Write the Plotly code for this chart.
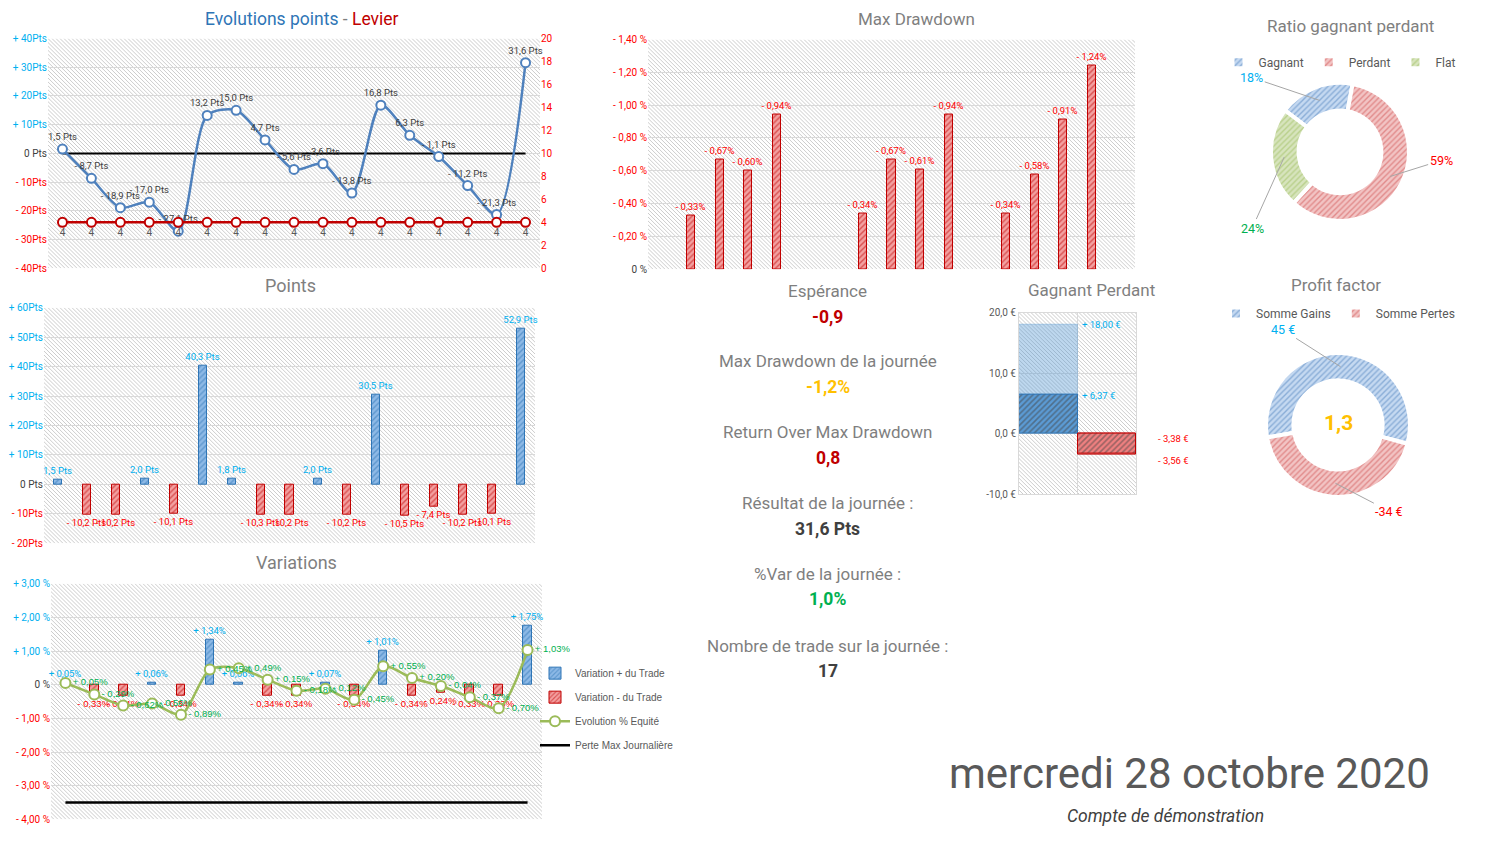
import base64
import math
import plotly.graph_objects as go

W, H = 1493, 849
FONT = "Roboto, Liberation Sans, sans-serif"
LEG_FONT = "Liberation Sans, Arial, sans-serif"

CYAN = "#00B0F0"
RED = "#FF0000"
DARKRED = "#C00000"
GREEN = "#00B050"
GOLD = "#FFC000"
GRAY = "#7F7F7F"
DARK = "#404040"
GRID = "#d9d9d9"

# ---------------- data ----------------
trades = [1, 2, 3, 4, 5, 6, 7, 8, 9, 10, 11, 12, 13, 14, 15, 16, 17]
cumul_points = [1.5, -8.7, -18.9, -17.0, -27.1, 13.2, 15.0, 4.7, -5.6, -3.6,
                -13.8, 16.8, 6.3, -1.1, -11.2, -21.3, 31.6]
levier = [4, 4, 4, 4, 4, 4, 4, 4, 4, 4, 4, 4, 4, 4, 4, 4, 4]
niveau_zero = 0
points_trade = [1.5, -10.2, -10.2, 2.0, -10.1, 40.3, 1.8, -10.3, -10.2, 2.0,
                -10.2, 30.5, -10.5, -7.4, -10.2, -10.1, 52.9]
var_trade = [0.05, -0.33, -0.34, 0.06, -0.34, 1.34, 0.06, -0.34, -0.34, 0.07,
             -0.34, 1.01, -0.34, -0.24, -0.33, -0.33, 1.75]
equite = [0.05, -0.29, -0.62, -0.56, -0.89, 0.45, 0.49, 0.15, -0.18, -0.12,
          -0.45, 0.55, 0.20, -0.04, -0.37, -0.70, 1.03]
perte_max_jour = -3.5
max_dd = [None, 0.33, 0.67, 0.60, 0.94, None, None, 0.34, 0.67, 0.61, 0.94,
          None, 0.34, 0.58, 0.91, 1.24, None]
gp_pos = [0, 1]
gp_max = [18.00, -3.56]
gp_moy = [6.37, -3.38]
ratio_labels = ["Gagnant", "Perdant", "Flat"]
ratio_counts = [3, 10, 4]
pf_labels = ["Somme Gains", "Somme Pertes"]
pf_values = [45, -34]
profit_factor = 1.3

pts_ticks = [-40, -30, -20, -10, 0, 10, 20, 30, 40]
lev_ticks = [0, 2, 4, 6, 8, 10, 12, 14, 16, 18, 20]
points_ticks = [-20, -10, 0, 10, 20, 30, 40, 50, 60]
var_ticks = [-4, -3, -2, -1, 0, 1, 2, 3]
dd_ticks = [0, 0.2, 0.4, 0.6, 0.8, 1.0, 1.2, 1.4]
gp_ticks = [-10, 0, 10, 20]

stat_titles = ["Espérance", "Max Drawdown de la journée", "Return Over Max Drawdown",
               "Résultat de la journée :", "%Var de la journée :",
               "Nombre de trade sur la journée :"]
stat_values = ["-0,9", "-1,2%", "0,8", "31,6 Pts", "1,0%", "17"]
stat_colors = [DARKRED, GOLD, DARKRED, DARK, GREEN, DARK]
date_text = "mercredi 28 octobre 2020"
compte_text = "Compte de démonstration"


# ---------------- helpers ----------------
def num(v, d=1):
    return f"{abs(v):.{d}f}".replace(".", ",")


def col(txt, c):
    return f"<span style='color:{c}'>{txt}</span>"


def dom_x(x0, x1):
    return [x0 / W, x1 / W]


def dom_y(y0, y1):
    return [1 - y1 / H, 1 - y0 / H]


def pts_tick(v):
    if v > 0:
        return col(f"+ {v}Pts", CYAN)
    if v == 0:
        return col("0 Pts", DARK)
    return col(f"- {abs(v)}Pts", RED)


def var_tick(v):
    if v > 0:
        return col(f"+ {num(v, 2)} %", CYAN)
    if v == 0:
        return col("0 %", DARK)
    return col(f"- {num(v, 2)} %", RED)


def dd_tick(v):
    if v == 0:
        return col("0 %", DARK)
    return col(f"- {num(v, 2)} %", RED)


def hatch(xr, yr, wpx, hpx):
    svg = (f"<svg xmlns='http://www.w3.org/2000/svg' width='{wpx}' height='{hpx}' "
           f"viewBox='0 0 {wpx} {hpx}'><defs><pattern id='h' width='4' height='4' "
           "patternUnits='userSpaceOnUse'><path d='M-1,-1 L5,5 M-1,3 L1,5 M3,-1 L5,1' "
           "stroke='#c6c6c6' stroke-width='0.9'/></pattern></defs>"
           "<rect width='100%' height='100%' fill='white'/>"
           "<rect width='100%' height='100%' fill='url(#h)'/></svg>")
    uri = "data:image/svg+xml;base64," + base64.b64encode(svg.encode()).decode()
    return dict(source=uri, xref=f"{xr} domain", yref=f"{yr} domain", x=0, y=1,
                sizex=1, sizey=1, xanchor="left", yanchor="top", sizing="stretch",
                layer="below")


def pat(bg, fg, line):
    return dict(color=bg, line=dict(color=line, width=1),
                pattern=dict(shape="/", fgcolor=fg, size=4, solidity=0.35,
                             fillmode="overlay"))


BLUE_BAR = pat("#8DB9E6", "#2E75B6", "#2E75B6")
RED_BAR = pat("#F3A0A0", "#C00000", "#C00000")

# plot areas in pixels (x0, x1, y0, y1)
P1 = (48, 540, 33, 266)
P2 = (44, 535, 306, 545)
P3 = (51, 542, 586, 825)
P4 = (648, 1135, 34, 267)
P5 = (1019, 1136, 311, 495)
PIE1 = (1270, 1410, 78, 218)
PIE2 = (1265, 1411, 352, 498)

fig = go.Figure()

# ---- Chart 1 : Evolutions points - Levier ----
fig.add_trace(go.Scatter(x=trades, y=[niveau_zero] * len(trades), mode="lines",
                         line=dict(color="black", width=2), xaxis="x", yaxis="y",
                         showlegend=False, hoverinfo="skip"))
fig.add_trace(go.Scatter(
    x=trades, y=cumul_points, mode="lines+markers+text",
    line=dict(color="#4F81BD", width=2.5, shape="spline", smoothing=0.8),
    marker=dict(size=9, color="white", line=dict(color="#4F81BD", width=2)),
    text=[(f"- {num(v)} Pts" if v < 0 else f"{num(v)} Pts") for v in cumul_points],
    textposition="top center", textfont=dict(family=FONT, size=9.5, color=DARK),
    xaxis="x", yaxis="y", showlegend=False, cliponaxis=False))
fig.add_trace(go.Scatter(
    x=trades, y=levier, mode="lines+markers+text",
    line=dict(color=DARKRED, width=2.5),
    marker=dict(size=9, color="white", line=dict(color=DARKRED, width=2)),
    text=[str(v) for v in levier], textposition="bottom center",
    textfont=dict(family=FONT, size=10, color="#595959"),
    xaxis="x", yaxis="y2", showlegend=False, cliponaxis=False))

# ---- Chart 2 : Points ----
pos_pts = [v if v > 0 else None for v in points_trade]
neg_pts = [v if v < 0 else None for v in points_trade]
fig.add_trace(go.Bar(x=trades, y=pos_pts, width=0.28, marker=BLUE_BAR,
                     text=[f"{num(v)} Pts" if v is not None else "" for v in pos_pts],
                     textposition="outside", constraintext="none",
                     textfont=dict(family=FONT, size=9.5, color=CYAN),
                     xaxis="x2", yaxis="y3", showlegend=False, cliponaxis=False))
fig.add_trace(go.Bar(x=trades, y=neg_pts, width=0.28, marker=RED_BAR,
                     text=[f"- {num(v)} Pts" if v is not None else "" for v in neg_pts],
                     textposition="outside", constraintext="none",
                     textfont=dict(family=FONT, size=9.5, color=RED),
                     xaxis="x2", yaxis="y3", showlegend=False, cliponaxis=False))

# ---- Chart 3 : Variations ----
pos_var = [v if v > 0 else None for v in var_trade]
neg_var = [v if v < 0 else None for v in var_trade]
fig.add_trace(go.Bar(x=trades, y=pos_var, width=0.3, marker=BLUE_BAR,
                     name="Variation + du Trade", legendgroup="a",
                     text=[f"+ {num(v, 2)}%" if v is not None else "" for v in pos_var],
                     textposition="outside", constraintext="none",
                     textfont=dict(family=FONT, size=9.5, color=CYAN),
                     xaxis="x3", yaxis="y4", cliponaxis=False))
fig.add_trace(go.Bar(x=trades, y=neg_var, width=0.3, marker=RED_BAR,
                     name="Variation - du Trade", legendgroup="b",
                     text=[f"- {num(v, 2)}%" if v is not None else "" for v in neg_var],
                     textposition="outside", constraintext="none",
                     textfont=dict(family=LEG_FONT, size=9.5, color=RED),
                     xaxis="x3", yaxis="y4", cliponaxis=False))
fig.add_trace(go.Scatter(
    x=trades, y=equite, mode="lines+markers+text", name="Evolution % Equité", legendgroup="c",
    line=dict(color="#9BBB59", width=2.5, shape="spline", smoothing=0.8),
    marker=dict(size=10, color="white", line=dict(color="#9BBB59", width=2)),
    text=[("+ " if v >= 0 else "- ") + num(v, 2) + "%" for v in equite],
    textposition="middle right", textfont=dict(family=LEG_FONT, size=9.5, color=GREEN),
    xaxis="x3", yaxis="y4", cliponaxis=False))
fig.add_trace(go.Scatter(x=trades, y=[perte_max_jour] * len(trades), mode="lines",
                         name="Perte Max Journalière", legendgroup="d",
                         line=dict(color="black", width=2.5), xaxis="x3", yaxis="y4"))

# ---- Chart 4 : Max Drawdown ----
fig.add_trace(go.Bar(x=trades, y=max_dd, width=0.28, marker=RED_BAR,
                     text=[f"- {num(v, 2)}%" if v is not None else "" for v in max_dd],
                     textposition="outside", constraintext="none",
                     textfont=dict(family=FONT, size=9.5, color=RED),
                     xaxis="x4", yaxis="y5", showlegend=False, cliponaxis=False))

# ---- Chart 5 : Gagnant Perdant ----
fig.add_trace(go.Bar(x=gp_pos, y=gp_max, width=1,
                     marker=dict(color=["rgba(91,155,213,0.40)", "rgba(230,90,90,0.45)"],
                                 line=dict(color=["rgba(91,155,213,0.3)", "#C00000"], width=1)),
                     xaxis="x5", yaxis="y6", showlegend=False))
fig.add_trace(go.Bar(x=gp_pos, y=gp_moy, width=1,
                     marker=dict(color=["#5B9BD5", "#F08080"],
                                 line=dict(color=["#2E75B6", "#C00000"], width=1),
                                 pattern=dict(shape="/", fgcolor=["#1F5FA0", "#C00000"],
                                              size=4, solidity=0.4, fillmode="overlay")),
                     xaxis="x5", yaxis="y6", showlegend=False))

# ---- Pie : Ratio gagnant perdant ----
RATIO_ROT, RATIO_HOLE = -53, 0.6
fig.add_trace(go.Pie(
    labels=ratio_labels, values=ratio_counts, hole=RATIO_HOLE, sort=False,
    direction="clockwise", rotation=RATIO_ROT,
    marker=dict(colors=["#C5D9F1", "#F2C4C4", "#D7E4BD"],
                line=dict(color="white", width=4),
                pattern=dict(shape="/", fgcolor=["#4F81BD", "#D05050", "#9BBB59"],
                             size=4, solidity=0.35, fillmode="overlay")),
    textinfo="none",
    domain=dict(x=dom_x(PIE1[0], PIE1[1]), y=dom_y(PIE1[2], PIE1[3])), legend="legend2",
    hoverinfo="skip"))

# ---- Pie : Profit factor ----
PF_ROT, PF_HOLE = -100, 0.62
fig.add_trace(go.Pie(
    labels=pf_labels, values=[abs(v) for v in pf_values], hole=PF_HOLE, sort=False,
    direction="clockwise", rotation=PF_ROT,
    marker=dict(colors=["#C5D9F1", "#F2C4C4"],
                line=dict(color="white", width=4),
                pattern=dict(shape="/", fgcolor=["#4F81BD", "#D05050"],
                             size=4, solidity=0.35, fillmode="overlay")),
    textinfo="none",
    domain=dict(x=dom_x(PIE2[0], PIE2[1]), y=dom_y(PIE2[2], PIE2[3])), legend="legend3",
    hoverinfo="skip"))


def xax(p, rng, **kw):
    d = dict(domain=dom_x(p[0], p[1]), range=rng, showgrid=False, zeroline=False,
             showticklabels=False, ticks="", fixedrange=True)
    d.update(kw)
    return d


def yax(p, rng, tv, tt, **kw):
    d = dict(domain=dom_y(p[2], p[3]), range=rng, tickvals=tv, ticktext=tt,
             showgrid=True, gridcolor=GRID, gridwidth=1, zeroline=False,
             tickfont=dict(family=FONT, size=10, color=DARK), ticks="", fixedrange=True)
    d.update(kw)
    return d


annotations = []


def title(txt, x, y, size=17, color=GRAY, **kw):
    annotations.append(dict(text=txt, x=x / W, y=1 - y / H, xref="paper", yref="paper",
                            showarrow=False, xanchor="center", yanchor="middle",
                            font=dict(family=FONT, size=size, color=color), **kw))


title(col("Evolutions points", "#2E75B6") + col(" - ", GRAY) + col("Levier", DARKRED),
      302, 13, size=17.5)
title("Points", 290, 284, size=18)
title("Variations", 296, 564, size=18)
title("Max Drawdown", 916, 13, size=17)
title("Gagnant Perdant", 1091, 288)
title("Ratio gagnant perdant", 1350, 20)
title("Profit factor", 1336, 283)

stat_y = [289, 360, 432, 504, 576, 649]
for t, v, c, yy in zip(stat_titles, stat_values, stat_colors, stat_y):
    title(t, 828, yy, size=17, color=GRAY)
    title(f"<b>{v}</b>", 828, yy + 26, size=17.5, color=c)

title(date_text, 1189, 778, size=42, color="#595959")
title(f"<i>{compte_text}</i>", 1165, 822, size=17.5, color="#404040")
title(f"<b>{num(profit_factor)}</b>", 1338, 423, size=21, color=GOLD)

# Gagnant Perdant labels
for xv, v, c, dx, dy in [(0.5, gp_max[0], CYAN, 2, 0), (0.5, gp_moy[0], CYAN, 2, 0),
                         (1.5, gp_moy[1], RED, 20, 15), (1.5, gp_max[1], RED, 20, -5)]:
    annotations.append(dict(text=("+ " if v > 0 else "- ") + num(v, 2) + " €",
                            x=xv, y=v, xref="x5", yref="y6", showarrow=False,
                            xanchor="left", yanchor="middle", xshift=dx, yshift=dy,
                            font=dict(family=FONT, size=9.5, color=c)))


# donut labels with leader lines
def ring_anchors(values, rot, box, hole):
    cx, cy = (box[0] + box[1]) / 2, (box[2] + box[3]) / 2
    r = min(box[1] - box[0], box[3] - box[2]) / 2
    rm = r * (1 + hole) / 2
    tot = sum(values)
    start = rot
    out = []
    for v in values:
        mid = math.radians(start + v / tot * 180)
        start += v / tot * 360
        out.append(((cx + rm * math.sin(mid)) / W, 1 - (cy - rm * math.cos(mid)) / H))
    return out


ratio_offsets = [(-68, -23), (51, -16), (-32, 71)]
ratio_colors = [CYAN, RED, GREEN]
tot_ratio = sum(ratio_counts)
for (ax_, ay_), (px, py), cnt, c in zip(ratio_offsets,
                                        ring_anchors(ratio_counts, RATIO_ROT, PIE1, RATIO_HOLE),
                                        ratio_counts, ratio_colors):
    annotations.append(dict(text=f"{round(100 * cnt / tot_ratio)}%", x=px, y=py,
                            xref="paper", yref="paper", ax=ax_, ay=ay_, showarrow=True,
                            arrowhead=0, arrowwidth=1, arrowcolor="#A6A6A6",
                            font=dict(family=FONT, size=12.5, color=c)))

pf_offsets = [(-58, -37), (54, 28)]
pf_colors = [CYAN, RED]
for (ax_, ay_), (px, py), v, c in zip(pf_offsets,
                                      ring_anchors([abs(v) for v in pf_values], PF_ROT, PIE2, PF_HOLE),
                                      pf_values, pf_colors):
    annotations.append(dict(text=f"{v} €", x=px, y=py, xref="paper", yref="paper",
                            ax=ax_, ay=ay_, showarrow=True, arrowhead=0, arrowwidth=1,
                            arrowcolor="#A6A6A6", font=dict(family=FONT, size=12.5, color=c)))

images = [hatch("x", "y", P1[1] - P1[0], P1[3] - P1[2]),
          hatch("x2", "y3", P2[1] - P2[0], P2[3] - P2[2]),
          hatch("x3", "y4", P3[1] - P3[0], P3[3] - P3[2]),
          hatch("x4", "y5", P4[1] - P4[0], P4[3] - P4[2]),
          hatch("x5", "y6", P5[1] - P5[0], P5[3] - P5[2])]

fig.update_layout(
    width=W, height=H, margin=dict(l=0, r=0, t=0, b=0),
    paper_bgcolor="white", plot_bgcolor="rgba(0,0,0,0)",
    barmode="overlay", bargap=0,
    font=dict(family=FONT, color=DARK),
    xaxis=xax(P1, [0.5, 17.5]),
    yaxis=yax(P1, [-40, 40], pts_ticks, [pts_tick(v) for v in pts_ticks]),
    yaxis2=dict(overlaying="y", side="right", anchor="x", range=[0, 20],
                tickvals=lev_ticks, ticktext=[str(v) for v in lev_ticks],
                showgrid=False, zeroline=False, ticks="", fixedrange=True,
                tickfont=dict(family=FONT, size=10, color=RED)),
    xaxis2=xax(P2, [0.5, 17.5], anchor="y3"),
    yaxis3=yax(P2, [-20, 60], points_ticks, [pts_tick(v) for v in points_ticks], anchor="x2"),
    xaxis3=xax(P3, [0.5, 17.5], anchor="y4"),
    yaxis4=yax(P3, [-4, 3], var_ticks, [var_tick(v) for v in var_ticks], anchor="x3"),
    xaxis4=xax(P4, [0.5, 17.5], anchor="y5"),
    yaxis5=yax(P4, [0, 1.4], dd_ticks, [dd_tick(v) for v in dd_ticks], anchor="x4"),
    xaxis5=xax(P5, [-0.5, 1.5], anchor="y6", tickvals=[0.5], showgrid=True,
               gridcolor=GRID, showline=True, linecolor=GRID, mirror=True),
    yaxis6=yax(P5, [-10, 20], gp_ticks,
               [num(v) + " €" if v >= 0 else "-" + num(v) + " €" for v in gp_ticks],
               anchor="x5", showline=True, linecolor=GRID, mirror=True,
               tickfont=dict(family=FONT, size=10, color="#595959")),
    legend=dict(x=535 / W, y=1 - 662 / H, xanchor="left", yanchor="top",
                bgcolor="rgba(0,0,0,0)", tracegroupgap=5, itemwidth=30,
                font=dict(family=LEG_FONT, size=10, color="#595959")),
    legend2=dict(x=1340 / W, y=1 - 57 / H, xanchor="center", yanchor="middle",
                 orientation="h", bgcolor="rgba(0,0,0,0)",
                 font=dict(family=FONT, size=12, color="#595959")),
    legend3=dict(x=1338 / W, y=1 - 312 / H, xanchor="center", yanchor="middle",
                 orientation="h", bgcolor="rgba(0,0,0,0)",
                 font=dict(family=FONT, size=12, color="#595959")),
    annotations=annotations,
    images=images,
)

fig.write_html("out.html", config=dict(displayModeBar=False),
               post_script="document.body.style.margin='0';document.body.style.overflow='hidden';")
